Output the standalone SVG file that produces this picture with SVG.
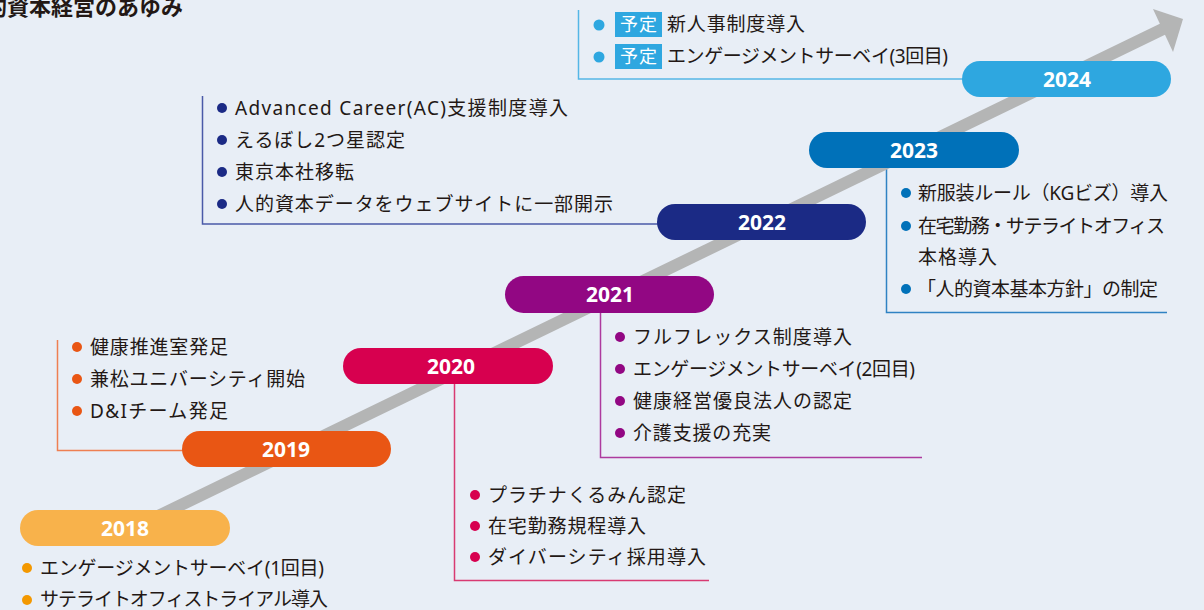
<svg xmlns="http://www.w3.org/2000/svg" width="1204" height="610" viewBox="0 0 1204 610">
<defs>
<style>
.bg{fill:#e8eef6}
.t{font-family:"Noto Sans","Noto Sans CJK JP",sans-serif;font-size:19px;fill:#231815}
.yr{font-family:"Noto Sans","Noto Sans CJK JP",sans-serif;font-size:21px;font-weight:700;fill:#ffffff;text-anchor:middle}
.title{font-family:"Noto Sans CJK JP",sans-serif;font-size:22px;font-weight:700;fill:#231815}
.br{fill:none;stroke-width:1.5}
.badge{fill:#2ea7e0}
.bt{font-family:"Noto Sans CJK JP",sans-serif;font-size:18px;fill:#ffffff}
</style>
</defs>
<rect class="bg" x="0" y="0" width="1204" height="610"/>
<text class="title" x="-37" y="15">人的資本経営のあゆみ</text>

<g id="connectors">
<path class="br" stroke="#54b6e6" d="M578.5 10 V79 H965"/>
<path class="br" stroke="#4a5aa8" d="M202.5 96 V224 H660"/>
<path class="br" stroke="#2f82c3" d="M886.5 165 V312.5 H1167"/>
<path class="br" stroke="#ad3a9e" d="M600.5 310 V457.5 H922"/>
<path class="br" stroke="#d83a72" d="M454.5 380 V580.5 H709"/>
<path class="br" stroke="#ee7f52" d="M57.5 340 V450.5 H185"/>
<g id="arrow">
<line x1="150" y1="520" x2="1165" y2="28" stroke="#b4b5b5" stroke-width="12"/>
<polygon points="1183,19 1153,9 1173,52" fill="#b4b5b5"/>
</g>
</g>

<g id="y2018">
<rect x="20" y="510" width="210" height="36" rx="18" fill="#f8b24b"/>
<text class="yr" x="125" y="535.5">2018</text>
<circle cx="27" cy="568" r="5" fill="#f39800"/>
<text class="t" x="40" y="575" textLength="284">エンゲージメントサーベイ(1回目)</text>
<circle cx="27" cy="600" r="5" fill="#f39800"/>
<text class="t" x="40" y="606" textLength="288">サテライトオフィストライアル導入</text>
</g>

<g id="y2019">
<rect x="182" y="431" width="209" height="36" rx="18" fill="#e95614"/>
<text class="yr" x="286" y="456.5">2019</text>
<circle cx="77" cy="347" r="5" fill="#e95614"/>
<text class="t" x="90" y="354" textLength="138">健康推進室発足</text>
<circle cx="77" cy="379" r="5" fill="#e95614"/>
<text class="t" x="90" y="386" textLength="215">兼松ユニバーシティ開始</text>
<circle cx="77" cy="411" r="5" fill="#e95614"/>
<text class="t" x="90" y="418" textLength="138">D&amp;Iチーム発足</text>
</g>

<g id="y2020">
<rect x="343" y="348" width="210" height="36" rx="18" fill="#d7004f"/>
<text class="yr" x="451" y="373.5">2020</text>
<circle cx="475" cy="495" r="5" fill="#d7004f"/>
<text class="t" x="488" y="502" textLength="198">プラチナくるみん認定</text>
<circle cx="475" cy="526" r="5" fill="#d7004f"/>
<text class="t" x="488" y="533" textLength="158">在宅勤務規程導入</text>
<circle cx="475" cy="557" r="5" fill="#d7004f"/>
<text class="t" x="488" y="564" textLength="218">ダイバーシティ採用導入</text>
</g>

<g id="y2021">
<rect x="505" y="276" width="209" height="37" rx="18.5" fill="#920783"/>
<text class="yr" x="610" y="302">2021</text>
<circle cx="620" cy="337" r="5" fill="#920783"/>
<text class="t" x="633" y="344" textLength="219">フルフレックス制度導入</text>
<circle cx="620" cy="369" r="5" fill="#920783"/>
<text class="t" x="633" y="376" textLength="282">エンゲージメントサーベイ(2回目)</text>
<circle cx="620" cy="401" r="5" fill="#920783"/>
<text class="t" x="633" y="408" textLength="219">健康経営優良法人の認定</text>
<circle cx="620" cy="433" r="5" fill="#920783"/>
<text class="t" x="633" y="440" textLength="138">介護支援の充実</text>
</g>

<g id="y2022">
<rect x="657" y="204" width="209" height="36" rx="18" fill="#1b2a85"/>
<text class="yr" x="762" y="229.5">2022</text>
<circle cx="222" cy="108" r="5" fill="#1b2a85"/>
<text class="t" x="235" y="115" textLength="333">Advanced Career(AC)支援制度導入</text>
<circle cx="222" cy="140" r="5" fill="#1b2a85"/>
<text class="t" x="235" y="147" textLength="170">えるぼし2つ星認定</text>
<circle cx="222" cy="172" r="5" fill="#1b2a85"/>
<text class="t" x="235" y="179" textLength="119">東京本社移転</text>
<circle cx="222" cy="204" r="5" fill="#1b2a85"/>
<text class="t" x="235" y="211" textLength="378">人的資本データをウェブサイトに一部開示</text>
</g>

<g id="y2023">
<rect x="809" y="132" width="210" height="36" rx="18" fill="#0071b9"/>
<text class="yr" x="914" y="157.5">2023</text>
<circle cx="906" cy="193" r="5" fill="#0071b9"/>
<text class="t" x="918" y="200" textLength="250">新服装ルール（KGビズ）導入</text>
<circle cx="906" cy="226" r="5" fill="#0071b9"/>
<text class="t" x="918" y="233" textLength="247">在宅勤務・サテライトオフィス</text>
<text class="t" x="918" y="264" textLength="79">本格導入</text>
<circle cx="906" cy="289" r="5" fill="#0071b9"/>
<text class="t" x="917" y="296" textLength="241">「人的資本基本方針」の制定</text>
</g>

<g id="y2024">
<rect x="962" y="61" width="209" height="36" rx="18" fill="#2ea7e0"/>
<text class="yr" x="1067" y="86.5">2024</text>
<circle cx="599" cy="25" r="5.5" fill="#2ea7e0"/>
<rect class="badge" x="615" y="12" width="47" height="25"/>
<text class="bt" x="620" y="31" textLength="37">予定</text>
<text class="t" x="667" y="31" textLength="138">新人事制度導入</text>
<circle cx="599" cy="57" r="5.5" fill="#2ea7e0"/>
<rect class="badge" x="615" y="44" width="47" height="25"/>
<text class="bt" x="620" y="63" textLength="37">予定</text>
<text class="t" x="667" y="63" textLength="281">エンゲージメントサーベイ(3回目)</text>
</g>
</svg>
